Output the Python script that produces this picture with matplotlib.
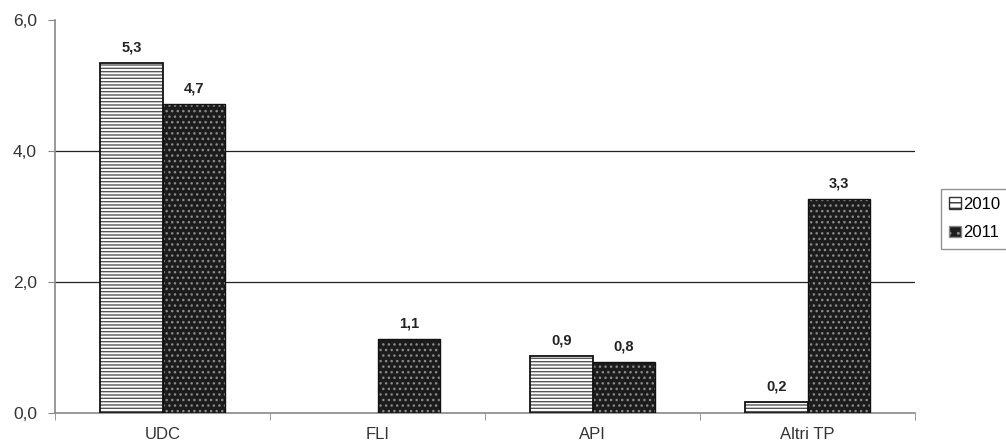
import numpy as np
import matplotlib
matplotlib.use("Agg")
import matplotlib.pyplot as plt
from matplotlib.patches import Patch

categories = ["UDC", "FLI", "API", "Altri TP"]
years = ["2010", "2011"]
values_2010 = [5.34, 0.0, 0.87, 0.17]
values_2011 = [4.72, 1.13, 0.78, 3.27]
labels_2010 = ["5,3", None, "0,9", "0,2"]
labels_2011 = ["4,7", "1,1", "0,8", "3,3"]
y_ticks = [0, 2, 4, 6]

plt.rcParams['font.family'] = ['Liberation Sans', 'DejaVu Sans']

fig = plt.figure(figsize=(10.06, 4.46), dpi=100)
ax = fig.add_axes([0.0547, 0.0740, 0.855, 0.881])

x = np.arange(len(categories))
w = 0.29
dark = "#1c1c1c"
lw_2010 = [1.3 if v > 0 else 0 for v in values_2010]

# 2010: white with horizontal lines
ax.bar(x - w / 2, values_2010, w, facecolor="white", edgecolor="#555555",
       hatch="-----", linewidth=0, zorder=3)
ax.bar(x - w / 2, values_2010, w, facecolor="none", edgecolor="#111111",
       linewidth=lw_2010, zorder=4)
# 2011: dark with white dots
ax.bar(x + w / 2, values_2011, w, facecolor=dark, edgecolor="#8a8a8a",
       hatch="...", linewidth=0, zorder=3)
ax.bar(x + w / 2, values_2011, w, facecolor="none", edgecolor="#111111",
       linewidth=1.0, zorder=4)

for xi, v, lab in zip(x, values_2010, labels_2010):
    if lab:
        ax.text(xi - w / 2, v + 0.13, lab, ha="center", va="bottom",
                fontsize=10.5, fontweight="bold", color="#222222")
for xi, v, lab in zip(x, values_2011, labels_2011):
    ax.text(xi + w / 2, v + 0.13, lab, ha="center", va="bottom",
            fontsize=10.5, fontweight="bold", color="#222222")

ax.set_xlim(-0.5, len(categories) - 0.5)
ax.set_ylim(0, 6)
ax.set_yticks(y_ticks)
ax.set_yticklabels([f"{t:.1f}".replace(".", ",") for t in y_ticks],
                   fontsize=12.5, color="#333333")
for t in [2, 4]:
    ax.axhline(t, color="#222222", linewidth=0.9, zorder=1)

ax.set_xticks(x)
ax.set_xticklabels(categories, fontsize=12, color="#333333")
ax.set_xticks(np.arange(len(categories) + 1) - 0.5, minor=True)
ax.tick_params(axis="x", which="major", length=0, pad=10)
ax.tick_params(axis="x", which="minor", length=5, color="#888888", direction="out")
ax.tick_params(axis="y", length=5, color="#888888", direction="out", pad=8)

for s in ["top", "right"]:
    ax.spines[s].set_visible(False)
for s in ["left", "bottom"]:
    ax.spines[s].set_color("#888888")
    ax.spines[s].set_linewidth(1.2)

handles = [Patch(facecolor="white", edgecolor="#333333", hatch="---"),
           Patch(facecolor=dark, edgecolor="#8a8a8a", hatch="..")]
leg = fig.legend(handles, years, loc="center left", bbox_to_anchor=(0.927, 0.51),
                 fontsize=12, frameon=True, fancybox=False, handlelength=0.7,
                 handleheight=0.7, handletextpad=0.15, borderpad=0.5,
                 labelspacing=0.8)
leg.get_frame().set_edgecolor("#777777")
leg.get_frame().set_linewidth(1.0)

fig.savefig("out.png", dpi=100)
